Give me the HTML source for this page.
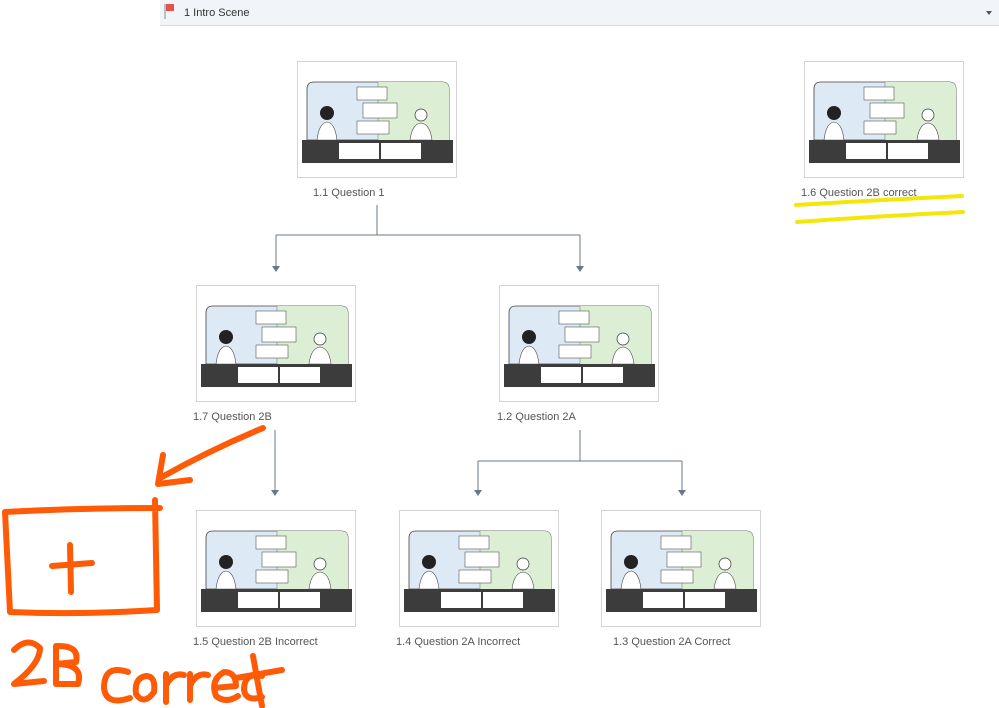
<!DOCTYPE html>
<html><head><style>
body{margin:0;width:999px;height:708px;background:#fff;overflow:hidden;font-family:"Liberation Sans",sans-serif;}
svg{display:block}
</style></head><body>
<svg width="999" height="708" xmlns="http://www.w3.org/2000/svg">
<defs>
<g id="th">
<rect x="0.5" y="0.5" width="159" height="116" fill="#fff" stroke="#d4d4d4"/>
<path d="M10 79 V28 Q10 21 17 21 H145 Q152 21 152 28 V79 Z" fill="#dde9f5" stroke="#444" stroke-width="0.8"/>
<path d="M81 21 H145 Q152 21 152 28 V79 H81 Z" fill="#dcefd5"/>
<line x1="81" y1="21" x2="81" y2="79" stroke="#888" stroke-width="0.6"/>
<rect x="60" y="26" width="30" height="13" fill="#fff" stroke="#555" stroke-width="0.6"/>
<rect x="66" y="42" width="34" height="15" fill="#fff" stroke="#555" stroke-width="0.6"/>
<rect x="60" y="60" width="32" height="13" fill="#fff" stroke="#555" stroke-width="0.6"/>
<circle cx="30" cy="52" r="7" fill="#222"/>
<path d="M20 79 Q22 62 30 61 Q38 62 40 79Z" fill="#fff" stroke="#444" stroke-width="0.6"/>
<circle cx="124" cy="54" r="6" fill="#fff" stroke="#333" stroke-width="0.7"/>
<path d="M113 79 Q115 63 124 62 Q133 63 135 79Z" fill="#fff" stroke="#444" stroke-width="0.6"/>
<rect x="5" y="79" width="151" height="23" fill="#3c3c3c"/>
<rect x="42" y="82" width="40" height="16" fill="#fff"/>
<rect x="84" y="82" width="40" height="16" fill="#fff"/>
</g>
</defs>
<rect x="160" y="0" width="839" height="25" fill="#f1f4f8"/>
<line x1="160" y1="25.5" x2="999" y2="25.5" stroke="#d6dadf"/>
<line x1="165" y1="4" x2="165" y2="19" stroke="#888"/>
<path d="M166 4 H174 V11 H166Z" fill="#e8504a"/>
<text x="184" y="16" font-size="11" fill="#333">1 Intro Scene</text>
<path d="M986 11 L992 11 L989 15Z" fill="#555"/>

<use href="#th" x="297" y="61"/>
<use href="#th" x="804" y="61"/>
<use href="#th" x="196" y="285"/>
<use href="#th" x="499" y="285"/>
<use href="#th" x="196" y="510"/>
<use href="#th" x="399" y="510"/>
<use href="#th" x="601" y="510"/>

<g font-size="11" fill="#555">
<text x="313" y="196">1.1 Question 1</text>
<text x="801" y="196">1.6 Question 2B correct</text>
<text x="193" y="420">1.7 Question 2B</text>
<text x="497" y="420">1.2 Question 2A</text>
<text x="193" y="645">1.5 Question 2B Incorrect</text>
<text x="396" y="645">1.4 Question 2A Incorrect</text>
<text x="613" y="645">1.3 Question 2A Correct</text>
</g>

<g stroke="#6b7784" stroke-width="1" fill="none">
<path d="M377 205 V235 M276 235 H580 M276 235 V268 M580 235 V268"/>
<path d="M275 430 V493"/>
<path d="M580 430 V461 M478 461 H682 M478 461 V493 M682 461 V493"/>
</g>
<g fill="#6b7784">
<path d="M272 266 L280 266 L276 272Z"/><path d="M576 266 L584 266 L580 272Z"/>
<path d="M271 490 L279 490 L275 496Z"/>
<path d="M474 490 L482 490 L478 496Z"/><path d="M678 490 L686 490 L682 496Z"/>
</g>

<g stroke="#f5e60a" stroke-width="4" stroke-linecap="round" fill="none">
<path d="M796 205 Q880 200 962 196"/>
<path d="M797 222 Q880 216 963 212"/>
</g>

<g stroke="#ff5a05" stroke-width="6" stroke-linecap="round" stroke-linejoin="round" fill="none">
<path d="M263 428 Q210 450 160 478"/>
<path d="M163 455 L158 484 L190 480"/>
<path d="M5 512 Q80 508 160 508 M155 500 L157 610 Q80 615 10 612 L5 512"/>
<path d="M52 566 L92 563 M70 545 L71 592"/>
<path d="M14 650 Q28 636 40 648 Q40 664 14 684 L44 681"/>
<path d="M56 646 V684 M56 646 Q80 645 76 662 L56 664 Q84 664 78 684 L56 684"/>
<path d="M128 672 Q104 664 104 688 Q106 706 130 698"/>
<path d="M146 676 Q134 678 136 694 Q144 706 154 692 Q156 676 146 676"/>
<path d="M166 674 V702 M166 686 Q172 672 184 675"/>
<path d="M190 674 V700 M190 686 Q196 672 208 675"/>
<path d="M214 688 L236 686 Q236 672 224 672 Q210 680 216 696 Q226 704 238 696"/>
<path d="M262 676 Q244 672 244 690 Q246 702 262 697"/>
<path d="M253 656 L262 706 M236 678 L282 670"/>
</g>
</svg>
</body></html>
